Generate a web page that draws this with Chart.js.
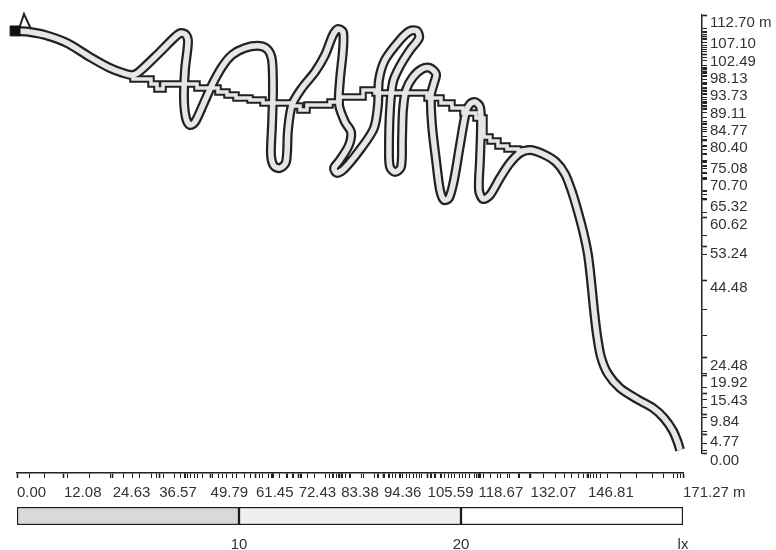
<!DOCTYPE html>
<html>
<head>
<meta charset="utf-8">
<script src="https://cdn.jsdelivr.net/npm/chart.js@4.4.1/dist/chart.umd.min.js"></script>
<style>
  html, body { margin: 0; padding: 0; background: #fff; }
  #wrap { position: relative; width: 776px; height: 550px; }
  #profile { position: absolute; left: 0; top: 0; }
  #scale { position: absolute; left: 0; top: 500px; }
</style>
</head>
<body>
<div id="wrap">
  <canvas id="profile" width="776" height="550" style="width:776px;height:550px"></canvas>
  <canvas id="scale" width="776" height="50" style="width:776px;height:50px"></canvas>
</div>
<script>
// route centre line (m)
const pathX = [0, 3.34, 7.20, 12.86, 18.77, 23.92, 27.26, 29.83, 31.63, 36.77, 40.63, 42.17, 43.46, 43.97,
  43.20, 42.95, 43.46, 44.49, 45.77, 47.83, 50.15, 52.72, 55.29, 58.63, 62.49, 64.55, 65.58, 65.83,
  65.58, 65.32, 66.09, 67.63, 69.18, 69.69, 70.72, 73.29, 76.63, 79.21, 81.26, 82.55, 83.83, 83.83,
  83.06, 82.81, 84.35, 85.89, 85.38, 83.06, 81.52, 82.29, 84.35, 88.72, 91.81, 92.83, 93.09, 94.63,
  98.49, 101.06, 102.86, 103.38, 101.06, 98.49, 96.69, 95.92, 95.66, 95.92, 97.21, 98.75, 99.01,
  99.26, 100.04, 101.84, 104.15, 106.21, 107.75, 107.24, 106.46, 106.72, 107.75, 108.78, 109.81,
  111.09, 112.38, 113.92, 115.46, 116.49, 117.78, 119.06, 119.32, 119.06, 118.81, 119.84, 121.64,
  124.21, 126.78, 129.35, 131.92, 135.27, 138.61, 140.92, 142.72, 144.27, 145.81, 146.84, 147.61,
  148.38, 149.15, 150.18, 151.98, 155.07, 159.44, 163.55, 166.38, 168.70, 169.98, 170.50];
const pathY = [108.58, 108.33, 107.56, 105.50, 101.89, 99.06, 97.78, 97.26, 98.29, 103.18, 107.04, 108.07, 107.56, 105.75,
  98.55, 90.83, 86.20, 84.40, 85.17, 89.54, 94.69, 99.32, 102.41, 104.21, 104.73, 103.70, 101.12, 93.40,
  84.40, 76.68, 73.85, 73.33, 74.88, 83.11, 89.54, 93.92, 98.04, 102.41, 107.56, 109.10, 108.33, 103.70,
  95.98, 89.54, 85.17, 82.60, 79.25, 75.39, 73.33, 72.05, 73.33, 78.74, 83.63, 89.54, 95.98, 101.12,
  106.27, 108.58, 108.58, 106.78, 103.70, 99.58, 95.46, 88.26, 77.97, 73.59, 72.30, 73.59, 80.54,
  88.26, 93.40, 96.75, 98.81, 99.06, 97.52, 95.20, 92.12, 84.40, 75.39, 67.67, 65.10,
  65.61, 70.25, 79.25, 87.74, 89.80, 90.32, 89.03, 84.40, 75.39, 67.67, 65.36, 66.39,
  70.76, 74.62, 77.19, 77.97, 76.94, 74.88, 71.79, 67.16, 62.01, 56.09, 50.95, 44.51,
  36.80, 30.36, 24.70, 20.33, 16.73, 13.89, 11.58, 9.01, 5.66, 2.57, 0.77];

// stepped line: each point starts a tread
const stairX = [29.83, 34.46, 36.00, 37.55, 46.29, 51.69, 54.00, 56.32, 59.92, 63.26, 70.98, 72.78, 74.58,
  80.49, 83.06, 88.98, 92.06, 105.44, 109.04, 111.86, 114.69, 118.04, 120.09, 121.64, 123.69, 126.01, 128.84, 131.92];
const stairY = [97.26, 96.23, 94.95, 93.66, 94.95, 93.92, 92.89, 92.12, 91.35, 90.83, 90.06, 89.29, 88.26,
  89.54, 90.32, 91.60, 93.40, 92.63, 91.35, 90.06, 88.77, 87.49, 86.20, 81.31, 80.28, 78.99, 78.22, 77.97];

const startX = [-0.5];
const startY = [108.6];
const spikeX = [0.51, 1.80, 3.60];
const spikeY = [109.10, 112.96, 109.10];

const xTickValues = [0, 12.08, 24.63, 36.57, 49.79, 61.45, 72.43, 83.38, 94.36, 105.59, 118.67, 132.07, 146.81, 171.27];
const xTickLabels = ['0.00', '12.08', '24.63', '36.57', '49.79', '61.45', '72.43', '83.38', '94.36', '105.59', '118.67', '132.07', '146.81', '171.27 m'];
const yTickValues = [0, 4.77, 9.84, 15.43, 19.92, 24.48, 44.48, 53.24, 60.62, 65.32, 70.70, 75.08, 80.40, 84.77, 89.11, 93.73, 98.13, 102.49, 107.10, 112.70];
const yTickLabels = ['0.00', '4.77', '9.84', '15.43', '19.92', '24.48', '44.48', '53.24', '60.62', '65.32', '70.70', '75.08', '80.40', '84.77', '89.11', '93.73', '98.13', '102.49', '107.10', '112.70 m'];

// illuminance classes (lx)
const lxBreaks = [0, 10, 20, 30];
const lxLabels = ['10', '20', 'lx'];
const lxColors = ['#d9d9d9', '#efefef', '#ffffff'];

Chart.defaults.font.family = "'Liberation Sans', Arial, sans-serif";
Chart.defaults.font.size = 15;
Chart.defaults.color = '#333';

function tickList(major, extra, lo, hi) {
  const all = major.concat(extra.filter(v => v >= lo && v <= hi && !major.includes(v)));
  return Array.from(new Set(all)).sort((a, b) => a - b).map(v => ({value: v}));
}

const pathPoints = pathX.map((x, i) => ({x: x, y: pathY[i]}));
const stairPoints = stairX.map((x, i) => ({x: x, y: stairY[i]}));
const spikePoints = spikeX.map((x, i) => ({x: x, y: spikeY[i]}));
const startPoints = startX.map((x, i) => ({x: x, y: startY[i]}));

const tubeBase = { showLine: true, pointRadius: 0, clip: false, capBezierPoints: false };

new Chart(document.getElementById('profile'), {
  type: 'scatter',
  data: {
    datasets: [
      Object.assign({}, tubeBase, { data: pathPoints, borderColor: '#222', borderWidth: 10, tension: 0.3, borderJoinStyle: 'round', borderCapStyle: 'butt', order: 5 }),
      Object.assign({}, tubeBase, { data: stairPoints, borderColor: '#222', borderWidth: 7.5, stepped: 'after', borderJoinStyle: 'miter', order: 4 }),
      Object.assign({}, tubeBase, { data: pathPoints, borderColor: '#e6e6e6', borderWidth: 5.5, tension: 0.3, borderJoinStyle: 'round', borderCapStyle: 'butt', order: 3 }),
      Object.assign({}, tubeBase, { data: stairPoints, borderColor: '#e6e6e6', borderWidth: 3.5, stepped: 'after', borderJoinStyle: 'miter', order: 2 }),
      Object.assign({}, tubeBase, { data: spikePoints, borderColor: '#222', borderWidth: 2, order: 1 }),
      { data: startPoints, showLine: false, pointStyle: 'rect', pointRadius: 7, backgroundColor: '#111', borderColor: '#111', clip: false, order: 0 }
    ]
  },
  options: {
    responsive: false,
    animation: false,
    events: [],
    layout: { padding: { left: 17, top: 15, right: 4, bottom: 37 } },
    plugins: { legend: { display: false }, tooltip: { enabled: false } },
    scales: {
      x: {
        type: 'linear', min: 0, max: 171.27, position: 'bottom', stack: 'h', stackWeight: 666,
        afterBuildTicks: s => { s.ticks = tickList(xTickValues, pathX.concat(stairX), 0, 171.27); },
        afterFit: s => { s.height = 40; },
        ticks: {
          autoSkip: false, maxRotation: 0, minRotation: 0, align: 'start', padding: 6, color: '#333',
          callback: v => { const i = xTickValues.indexOf(v); return i >= 0 ? xTickLabels[i] : ''; }
        },
        grid: { drawOnChartArea: false, drawTicks: true, tickLength: 5, tickColor: '#222',
          tickWidth: c => (c.tick && xTickValues.includes(c.tick.value)) ? 1.6 : 1 },
        border: { display: true, color: '#222', width: 1.5 }
      },
      x2: { type: 'linear', display: false, position: 'bottom', stack: 'h', stackWeight: 19 },
      y: {
        type: 'linear', min: 0, max: 112.70, position: 'right', stack: 'v', stackWeight: 438,
        afterBuildTicks: s => { s.ticks = tickList(yTickValues, pathY.concat(stairY), 0, 112.70); },
        afterFit: s => { s.width = 70; },
        ticks: {
          autoSkip: false, align: 'start', padding: 3, color: '#333',
          callback: v => { const i = yTickValues.indexOf(v); return i >= 0 ? yTickLabels[i] : ''; }
        },
        grid: { drawOnChartArea: false, drawTicks: true, tickLength: 5, tickColor: '#222',
          tickWidth: c => (c.tick && yTickValues.includes(c.tick.value)) ? 1.6 : 1 },
        border: { display: true, color: '#222', width: 1.5 }
      },
      y2: { type: 'linear', display: false, position: 'right', stack: 'v', stackWeight: 20 }
    }
  }
});

// colour scale bar
new Chart(document.getElementById('scale'), {
  type: 'bar',
  data: {
    labels: [''],
    datasets: lxLabels.map((l, i) => ({
      label: l,
      data: [lxBreaks[i + 1] - lxBreaks[i]],
      backgroundColor: lxColors[i],
      borderColor: '#1c1c1c',
      borderWidth: 1.5,
      borderSkipped: false,
      barPercentage: 1,
      categoryPercentage: 1
    }))
  },
  options: {
    indexAxis: 'y',
    responsive: false,
    animation: false,
    events: [],
    layout: { padding: { left: 17, right: 93, top: 7, bottom: 0 } },
    plugins: { legend: { display: false }, tooltip: { enabled: false } },
    scales: {
      x: {
        type: 'linear', stacked: true, min: lxBreaks[0], max: lxBreaks[lxBreaks.length - 1],
        afterBuildTicks: s => { s.ticks = lxBreaks.slice(1).map(v => ({value: v})); },
        afterFit: s => { s.height = 25; },
        ticks: { padding: 11, maxRotation: 0, color: '#333',
          callback: v => { const i = lxBreaks.indexOf(v); return i > 0 ? lxLabels[i - 1] : ''; } },
        grid: { display: false, drawTicks: false },
        border: { display: false }
      },
      y: { stacked: true, display: false }
    }
  }
});
</script>
</body>
</html>
